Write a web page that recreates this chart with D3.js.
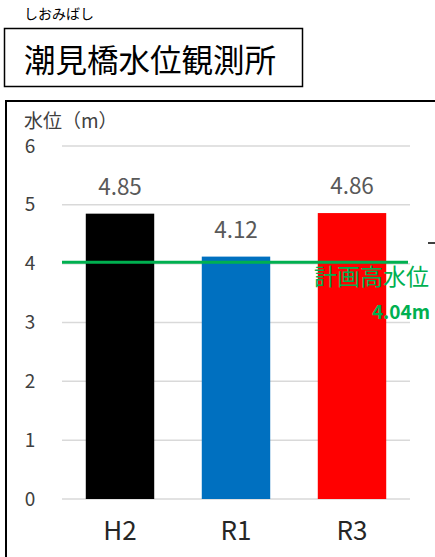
<!DOCTYPE html>
<html lang="ja">
<head>
<meta charset="UTF-8">
<script src="https://d3js.org/d3.v7.min.js"></script>
<style>
  body { margin: 0; background: #fff; }
  text { font-family: "Noto Sans CJK JP", "Noto Sans", sans-serif; }
</style>
</head>
<body>
<div id="chart"></div>
<script>
// データ
const years = ["H2", "R1", "R3"];
const levels = [4.85, 4.12, 4.86];
const barColors = ["#000000", "#0070c0", "#ff0000"];
const yTicks = [0, 1, 2, 3, 4, 5, 6];
const planLevel = 4.04;

const W = 435, H = 557;
const svg = d3.select("#chart").append("svg")
  .attr("width", W).attr("height", H);

// ふりがなとタイトル
svg.append("text").attr("x", 24).attr("y", 19)
  .attr("font-size", 14).attr("fill", "#000").text("しおみばし");
svg.append("rect").attr("x", 4.5).attr("y", 28.5).attr("width", 298).attr("height", 58)
  .attr("fill", "none").attr("stroke", "#000").attr("stroke-width", 1.5);
svg.append("text").attr("x", 24).attr("y", 72)
  .attr("font-size", 31.5).attr("fill", "#000").text("潮見橋水位観測所");

// グラフ枠
svg.append("rect").attr("x", 6).attr("y", 101).attr("width", 440).attr("height", 470)
  .attr("fill", "none").attr("stroke", "#000").attr("stroke-width", 2);

const x = d3.scaleBand().domain(years).range([62, 410]).paddingInner(0.41).paddingOuter(0.205);
const y = d3.scaleLinear().domain([0, 6]).range([499, 146]);

// 目盛線
svg.append("g").selectAll("line").data(yTicks).join("line")
  .attr("x1", 62).attr("x2", 410)
  .attr("y1", d => y(d)).attr("y2", d => y(d))
  .attr("stroke", "#d9d9d9").attr("stroke-width", 1.5);

const yAxis = svg.append("g").attr("transform", "translate(30,0)")
  .call(d3.axisLeft(y).tickValues(yTicks).tickFormat(d3.format("d")).tickSize(0).tickPadding(0));
yAxis.select(".domain").remove();
yAxis.selectAll("text").attr("font-size", 19).attr("fill", "#404040")
  .attr("text-anchor", "middle")
  .attr("font-family", "Noto Sans, sans-serif");

svg.append("text").attr("x", 24).attr("y", 128)
  .attr("font-size", 19).attr("fill", "#404040").text("水位（m）");

// 棒
svg.append("g").selectAll("rect").data(levels).join("rect")
  .attr("x", (d, i) => x(years[i]))
  .attr("y", d => y(d))
  .attr("width", x.bandwidth())
  .attr("height", d => y(0) - y(d))
  .attr("fill", (d, i) => barColors[i]);

svg.append("g").selectAll("text").data(levels).join("text")
  .attr("x", (d, i) => x(years[i]) + x.bandwidth() / 2)
  .attr("y", d => y(d) - 19)
  .attr("text-anchor", "middle")
  .attr("font-size", 22.5).attr("fill", "#595959")
  .attr("font-family", "Noto Sans, sans-serif")
  .text(d => d.toFixed(2));

const xAxis = svg.append("g").attr("transform", "translate(0,522)")
  .call(d3.axisBottom(x).tickSize(0).tickPadding(0));
xAxis.select(".domain").remove();
xAxis.selectAll("text").attr("font-size", 26).attr("fill", "#262626")
  .attr("font-family", "Noto Sans, sans-serif");

// 計画高水位
svg.append("line").attr("x1", 62).attr("x2", 408)
  .attr("y1", y(planLevel) + 1).attr("y2", y(planLevel) + 1)
  .attr("stroke", "#00b050").attr("stroke-width", 3);
svg.append("text").attr("x", 314).attr("y", 285)
  .attr("font-size", 23).attr("fill", "#00b050").text("計画高水位");
svg.append("text").attr("x", 430).attr("y", 319).attr("text-anchor", "end")
  .attr("font-size", 19).attr("font-weight", "bold").attr("fill", "#00b050")
  .attr("font-family", "Noto Sans, sans-serif").text("4.04m");
svg.append("line").attr("x1", 428).attr("x2", 435).attr("y1", 243).attr("y2", 243)
  .attr("stroke", "#000").attr("stroke-width", 1.5);
</script>
</body>
</html>
